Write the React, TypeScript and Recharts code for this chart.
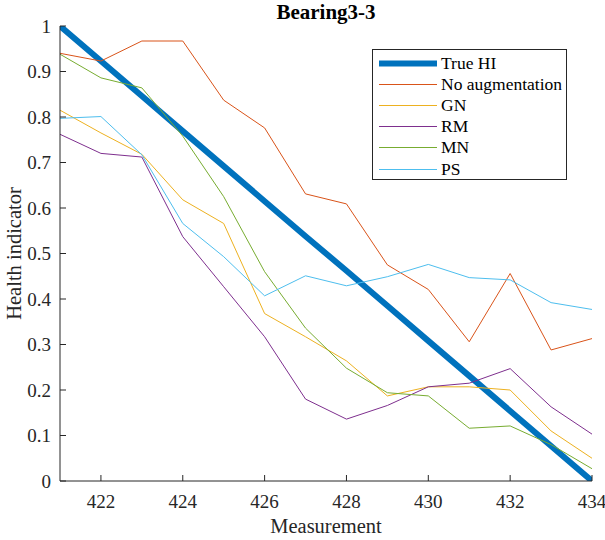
import { Legend, Line, LineChart, XAxis, YAxis } from "recharts";

const measurements = [421, 422, 423, 424, 425, 426, 427, 428, 429, 430, 431, 432, 433, 434];
const trueHI = [1, 0.923, 0.846, 0.769, 0.692, 0.615, 0.538, 0.462, 0.385, 0.308, 0.231, 0.154, 0.077, 0];
const noAugmentation = [0.94, 0.923, 0.967, 0.967, 0.837, 0.776, 0.631, 0.609, 0.475, 0.421, 0.306, 0.456, 0.288, 0.313];
const gn = [0.815, 0.765, 0.718, 0.618, 0.566, 0.368, 0.317, 0.264, 0.187, 0.207, 0.207, 0.2, 0.11, 0.05];
const rm = [0.762, 0.72, 0.712, 0.537, 0.427, 0.317, 0.18, 0.136, 0.166, 0.207, 0.215, 0.247, 0.163, 0.103];
const mn = [0.938, 0.886, 0.864, 0.758, 0.625, 0.46, 0.336, 0.248, 0.194, 0.187, 0.116, 0.121, 0.08, 0.027];
const ps = [0.797, 0.801, 0.717, 0.566, 0.493, 0.407, 0.451, 0.429, 0.449, 0.476, 0.447, 0.442, 0.392, 0.377];

const xTicks = [422, 424, 426, 428, 430, 432, 434];
const yTicks = [0, 0.1, 0.2, 0.3, 0.4, 0.5, 0.6, 0.7, 0.8, 0.9, 1];

const series = [
  { key: "trueHI", name: "True HI", color: "#0072BD", width: 6 },
  { key: "noAug", name: "No augmentation", color: "#D95319", width: 1 },
  { key: "gn", name: "GN", color: "#EDB120", width: 1 },
  { key: "rm", name: "RM", color: "#7E2F8E", width: 1 },
  { key: "mn", name: "MN", color: "#77AC30", width: 1 },
  { key: "ps", name: "PS", color: "#4DBEEE", width: 1 },
];

const data = measurements.map((m, i) => ({
  m,
  trueHI: trueHI[i],
  noAug: noAugmentation[i],
  gn: gn[i],
  rm: rm[i],
  mn: mn[i],
  ps: ps[i],
}));

const AXIS = "#262626";
const FONT = "'Liberation Serif', 'Times New Roman', serif";

function BottomTick({ x, y, payload }: any) {
  return (
    <g>
      <line x1={x} x2={x} y1={y} y2={y - 6} stroke={AXIS} />
      <text x={x} y={y + 27} textAnchor="middle" fill={AXIS} fontSize={19} fontFamily={FONT}>
        {payload.value}
      </text>
    </g>
  );
}

function TopTick({ x, y }: any) {
  return <line x1={x} x2={x} y1={y} y2={y + 6} stroke={AXIS} />;
}

function LeftTick({ x, y, payload }: any) {
  return (
    <g>
      <line x1={x} x2={x + 6} y1={y} y2={y} stroke={AXIS} />
      <text x={x - 9} y={y} dy="0.35em" textAnchor="end" fill={AXIS} fontSize={19} fontFamily={FONT}>
        {payload.value}
      </text>
    </g>
  );
}

function RightTick({ x, y }: any) {
  return <line x1={x} x2={x - 6} y1={y} y2={y} stroke={AXIS} />;
}

function LegendBox() {
  return (
    <div
      style={{
        width: 195,
        height: 131,
        boxSizing: "border-box",
        border: `1px solid ${AXIS}`,
        background: "#fff",
        paddingTop: 3,
        fontFamily: FONT,
        fontSize: 17.5,
        color: "#000",
      }}
    >
      {series.map((s) => (
        <div key={s.key} style={{ height: 21.1, display: "flex", alignItems: "center" }}>
          <svg width={68} height={21} style={{ flex: "none" }}>
            <line x1={6} x2={64} y1={10.5} y2={10.5} stroke={s.color} strokeWidth={s.width} />
          </svg>
          <span style={{ lineHeight: "21px" }}>{s.name}</span>
        </div>
      ))}
    </div>
  );
}

export default function App() {
  return (
    <div style={{ position: "absolute", left: 0, top: 0, width: 605, height: 540, background: "#fff" }}>
      <div
        style={{
          position: "absolute",
          left: 60,
          width: 532,
          top: 0,
          textAlign: "center",
          fontFamily: FONT,
          fontWeight: "bold",
          fontSize: 21,
          lineHeight: "24px",
          color: "#000",
        }}
      >
        Bearing3-3
      </div>
      <LineChart width={605} height={540} data={data} margin={{ top: 26, right: 13, bottom: 29, left: 10 }}>
        <XAxis
          dataKey="m"
          type="number"
          domain={[421, 434]}
          ticks={xTicks}
          allowDataOverflow
          stroke={AXIS}
          tickSize={0}
          tickMargin={0}
          height={30}
          tick={<BottomTick />}
          label={{
            value: "Measurement",
            position: "insideBottom",
            offset: -22,
            fill: AXIS,
            fontSize: 20.5,
            fontFamily: FONT,
          }}
        />
        <XAxis
          xAxisId="top"
          orientation="top"
          dataKey="m"
          type="number"
          domain={[421, 434]}
          ticks={xTicks}
          allowDataOverflow
          stroke={AXIS}
          tickSize={0}
          tickMargin={0}
          height={0}
          tick={<TopTick />}
        />
        <YAxis
          type="number"
          domain={[0, 1]}
          ticks={yTicks}
          allowDataOverflow
          stroke={AXIS}
          tickSize={0}
          tickMargin={0}
          width={50}
          tick={<LeftTick />}
          label={{
            value: "Health indicator",
            angle: -90,
            position: "insideLeft",
            offset: 4,
            style: { textAnchor: "middle" },
            fill: AXIS,
            fontSize: 20.5,
            fontFamily: FONT,
          }}
        />
        <YAxis
          yAxisId="right"
          orientation="right"
          type="number"
          domain={[0, 1]}
          ticks={yTicks}
          allowDataOverflow
          stroke={AXIS}
          tickSize={0}
          tickMargin={0}
          width={0}
          tick={<RightTick />}
        />
        <Legend
          layout="vertical"
          align="center"
          verticalAlign="middle"
          content={() => <LegendBox />}
          wrapperStyle={{ left: 372, top: 49, width: 195, height: 131 }}
        />
        {series.map((s) => (
          <Line
            key={s.key}
            type="linear"
            dataKey={s.key}
            name={s.name}
            stroke={s.color}
            strokeWidth={s.width}
            dot={false}
            activeDot={false}
            isAnimationActive={false}
          />
        ))}
      </LineChart>
    </div>
  );
}
